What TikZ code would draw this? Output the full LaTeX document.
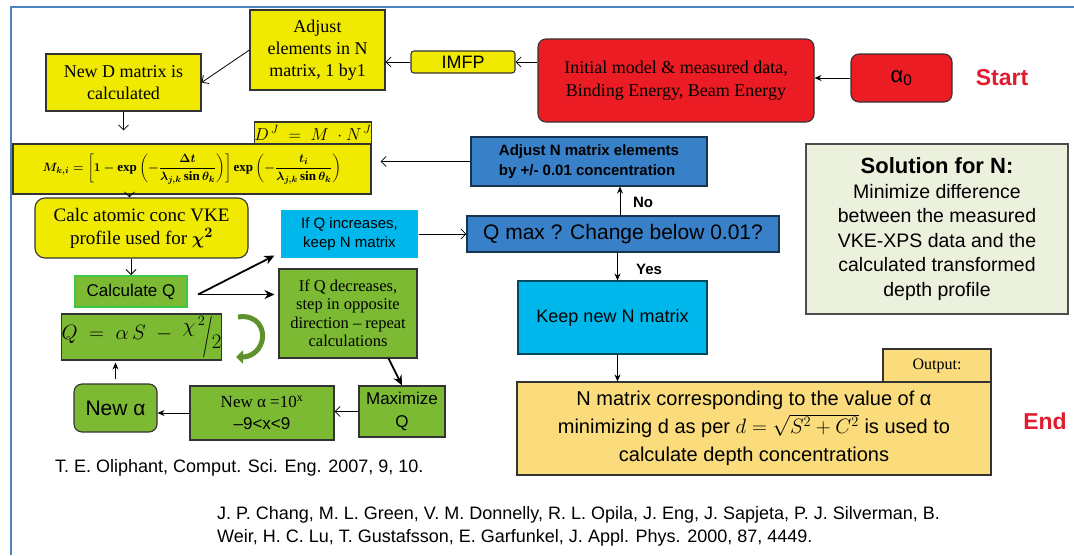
\documentclass[tikz,border=0pt]{standalone}
\usepackage{amsmath}
\usepackage{fontspec}
\setmainfont{Liberation Serif}
\setsansfont{Liberation Sans}
\usetikzlibrary{arrows.meta}
\definecolor{jaune}{RGB}{240,234,0}
\definecolor{rouge}{RGB}{236,28,36}
\definecolor{vert}{RGB}{124,186,52}
\definecolor{vertclair}{RGB}{60,200,70}
\definecolor{bleu}{RGB}{56,129,200}
\definecolor{ciel}{RGB}{0,183,235}
\definecolor{vertpale}{RGB}{235,241,221}
\definecolor{ocre}{RGB}{250,220,125}
\definecolor{rougetitre}{RGB}{226,28,48}
\definecolor{cadrebleu}{RGB}{79,129,189}
\definecolor{flechevert}{RGB}{95,145,45}
\newcommand{\taillef}[2]{\fontsize{#1}{#2}\selectfont}
\tikzset{
  taille/.style 2 args={minimum width=#1pt, minimum height=#2pt},
  boite/.style={draw=black!80, line width=1.1pt, inner sep=0pt, align=center},
  ybox/.style={boite, fill=jaune},
  rbox/.style={boite, fill=rouge, rounded corners=8pt},
  gbox/.style={boite, fill=vert},
  bbox/.style={boite, fill=bleu, draw=black!60!bleu},
  cbox/.style={boite, fill=ciel, draw=black!60!ciel},
  solbox/.style={boite, fill=vertpale, draw=black!70, line width=1.5pt},
  obox/.style={boite, fill=ocre},
  titre/.style={font=\sffamily\bfseries\taillef{23}{26}, text=rougetitre},
  etiq/.style={font=\sffamily\bfseries\taillef{15}{17}, inner sep=0pt},
  biblio/.style={font=\sffamily\taillef{18}{23}, align=left, inner sep=0pt},
  fleche/.style={-{Straight Barb[length=5pt,width=10pt]}, line width=0.8pt},
  flechep/.style={-{Stealth[length=7pt,width=6pt]}, line width=0.9pt},
  flecheg/.style={-{Stealth[length=10pt,width=9pt]}, line width=1.8pt},
  cadre/.style={draw=cadrebleu, line width=2pt}
}
\begin{document}
\begin{tikzpicture}[x=1pt,y=-1pt]
\useasboundingbox (0,0) rectangle (1074,555);
\draw[cadre] (11,555) -- (11,7) -- (1074,7); %cadre
\node[ybox, taille={135}{80}, font=\taillef{18}{22}] (adj) at (317.5,50) {Adjust\\elements in N\\matrix, 1 by1}; %haut milieu
\node[ybox, taille={155}{57}, font=\taillef{18}{22}] (newD) at (123.5,82.5) {New D matrix is\\calculated}; %haut gauche
\node[ybox, rounded corners=3pt, taille={104}{22}, font=\sffamily\taillef{18}{20}] (imfp) at (463,62) {IMFP};
\node[rbox, taille={276}{83}, font=\taillef{18}{23}] (init) at (676,80.5) {Initial model \& measured data,\\Binding Energy, Beam Energy};
\node[rbox, taille={101}{48}, font=\sffamily\taillef{22}{24}] (a0) at (901.5,78) {α\textsubscript{0}};
\node[titre] (debut) at (1002,78) {Start};
\node[ybox, taille={116}{22}, font=\taillef{17}{20}] (dj) at (313,133) {$D^{\,J} \;=\; M\;\cdot N^{\,J}$};
\node[ybox, taille={358}{50}, font=\boldmath\taillef{13}{15}] (mki) at (192,169) {$\displaystyle M_{k,i}=\left[1-\exp\left(-\frac{\Delta t}{\lambda_{j,k}\sin\theta_k}\right)\right]\exp\left(-\frac{t_i}{\lambda_{j,k}\sin\theta_k}\right)$}; %formule
\node[ybox, rounded corners=10pt, taille={213}{60}, font=\taillef{19}{23}] (calc) at (141.5,228) {Calc atomic conc VKE\\profile used for {\boldmath$\chi^{2}$}};
\node[gbox, draw=vertclair, line width=2pt, taille={112}{31}, font=\sffamily\taillef{17}{20}] (calcQ) at (131,291.5) {Calculate Q};
\node[gbox, taille={159}{46}, font=\taillef{22}{24}] (qform) at (141.5,337) {$Q \;=\; \alpha\, S \;-\; \raisebox{7pt}{$\chi^{\,2}$}\kern-3pt\raisebox{-8pt}{\scalebox{1.1}[2]{$/$}}\kern-1pt\raisebox{-9pt}{$2$}$};
\draw[line width=5pt, flechevert, -{Triangle[length=7pt,width=13pt]}] (238,317) .. controls (258,314) and (265,330) .. (262,341) .. controls (259,352) and (250,357) .. (236,357); %fleche courbe
\node[cbox, draw=none, taille={137}{48}, font=\sffamily\taillef{15}{19}] (incr) at (349.5,234) {If Q increases,\\keep N matrix};
\node[gbox, taille={138}{89}, font=\taillef{16.5}{18.5}] (decr) at (348,313.5) {If Q decreases,\\step in opposite\\direction -- repeat\\calculations};
\node[gbox, taille={86}{51}, font=\sffamily\taillef{17}{23}] (maxQ) at (402,411.5) {Maximize\\Q};
\node[gbox, taille={144}{54}, font=\taillef{17}{22}] (newA10) at (262,413) {New α =10\textsuperscript{x}\\{\sffamily --9<x<9}};
\node[gbox, rounded corners=8pt, taille={83}{48}, font=\sffamily\taillef{21}{24}] (newA) at (115.5,408) {New α};
\node[bbox, taille={236}{49}, font=\sffamily\bfseries\taillef{15}{20}, align=left] (adjN) at (589,161.5) {Adjust N matrix elements\\by +/- 0.01 concentration}; %bleu
\node[bbox, taille={312}{36}, font=\sffamily\taillef{21}{24}] (qmax) at (623,234) {Q max ? Change below 0.01?};
\node[cbox, taille={189}{73}, font=\sffamily\taillef{18}{20}] (keep) at (612.5,317.5) {Keep new N matrix};
\node[etiq] (non) at (643,202) {No};
\node[etiq] (oui) at (649,269) {Yes};
\node[solbox, taille={262}{170}, font=\sffamily\taillef{19.5}{24.5}] (sol) at (937,229) {{\bfseries\taillef{22}{24.5}Solution for N:}\\Minimize difference\\between the measured\\VKE-XPS data and the\\calculated transformed\\depth profile};
\node[obox, taille={108}{33}, font=\taillef{16}{18}] (out) at (937,365.5) {Output:};
\node[obox, taille={474}{93}, font=\sffamily\taillef{20}{28}] (nres) at (754,428.5) {N matrix corresponding to the value of α\\minimizing d as per $d=\sqrt{\vphantom{S}\smash{S^{2}+C^{2}}}$ is used to\\calculate depth concentrations};
\node[titre] (fin) at (1045,421) {End};
\node[biblio, anchor=west] (ref1) at (55,468) {T. E. Oliphant, Comput. Sci. Eng. 2007, 9, 10.};
\node[biblio, anchor=west] (ref2) at (217,526.5) {J. P. Chang, M. L. Green, V. M. Donnelly, R. L. Opila, J. Eng, J. Sapjeta, P. J. Silverman, B.\\Weir, H. C. Lu, T. Gustafsson, E. Garfunkel, J. Appl. Phys. 2000, 87, 4449.};
\draw[fleche] (init.west |- imfp) -- (imfp.east); %fleches du haut
\draw[fleche] (imfp.west) -- (imfp.west -| adj.east);
\draw[flechep] (a0.west) -- (a0.west -| init.east);
\draw[fleche] (adj.west) -- (newD.east);
\draw[fleche, shorten >=13pt] (newD.south) -- (newD.south |- mki.north);
\draw[fleche, shorten >=9pt] (adjN.west) -- (adjN.west -| mki.east);
\draw[fleche] ([xshift=-12pt]calc.north |- mki.south) -- ([xshift=-12pt]calc.north);
\draw[fleche] (calcQ.north |- calc.south) -- (calcQ.north);
\coordinate (depart) at ([xshift=10pt,yshift=-3pt]calcQ.east);
\draw[flecheg] (depart) -- ([xshift=-6pt,yshift=3pt]incr.south west); %vers le haut
\draw[flecheg] (depart) -- ([xshift=-4pt]depart -| decr.west); %vers la droite
\draw[flecheg] ([xshift=-29pt]decr.south east) -- (maxQ.north);
\draw[fleche] (maxQ.west) -- (maxQ.west -| newA10.east);
\draw[flechep] (newA10.west) -- (newA10.west -| newA.east);
\draw[flechep, shorten <=4pt, shorten >=2pt] (newA.north) -- (newA.north |- qform.south);
\draw[fleche] (incr.east) -- (incr.east -| qmax.west);
\draw[flechep] ([xshift=-3pt]qmax.north) -- ([xshift=-3pt]qmax.north |- adjN.south); %No
\draw[flechep] ([xshift=5pt]keep.north |- qmax.south) -- ([xshift=5pt]keep.north); %Yes
\draw[flechep] ([xshift=5pt]keep.south) -- ([xshift=5pt]keep.south |- nres.north);
\end{tikzpicture}
\end{document}
